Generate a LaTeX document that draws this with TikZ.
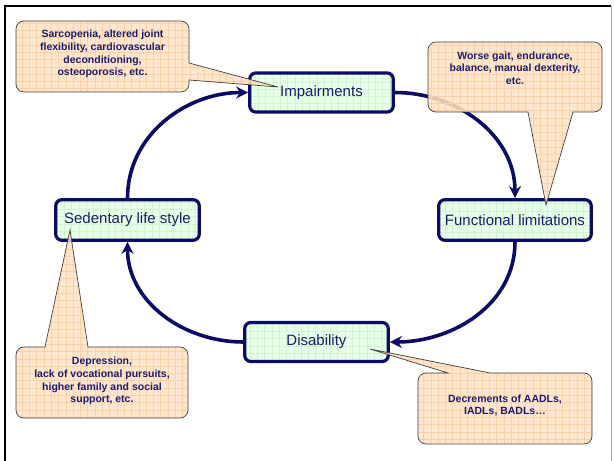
\documentclass[tikz,border=0pt]{standalone}
\usepackage{fontspec}
\setmainfont{Liberation Sans}
\usetikzlibrary{arrows.meta}

\definecolor{navyText}{RGB}{28,28,110}
\definecolor{navyLine}{RGB}{12,12,104}
\definecolor{mintFill}{RGB}{232,255,232}
\definecolor{mintGrid}{RGB}{208,244,208}
\definecolor{peachFill}{RGB}{255,226,196}
\definecolor{peachGrid}{RGB}{251,210,168}

\begin{document}
\begin{tikzpicture}
[x=1pt,y=1pt,
  boxDecorate/.style={shape=rectangle,rounded corners=6pt,draw=navyLine,line width=3.2pt,
    fill=mintFill,minimum width=143.5pt,minimum height=39pt,text=navyText,
    font=\fontsize{15}{18}\selectfont,
    path picture={\draw[mintGrid,line width=0.4pt] (path picture bounding box.south west)
      grid[step=7.3pt] (path picture bounding box.north east);}},
  calloutDecorate/.style={draw=black!75,line width=0.7pt,fill=peachFill,fill opacity=0.85,
    path picture={\draw[peachGrid,line width=0.4pt] (path picture bounding box.south west)
      grid[step=7.3pt] (path picture bounding box.north east);}},
  calloutText/.style={align=center,text=navyText,font=\bfseries\fontsize{10.5}{12.7}\selectfont},
  arrowDecorate/.style={-{Stealth[length=12pt,width=12pt]},line width=3.6pt,draw=navyLine},
  scale=1]
\useasboundingbox (0,0) rectangle (614,461);
%% frame
\draw[line width=2pt] (5,0) -- (5,455) -- (611,455);
\draw[black!35,line width=0.8pt] (611,455) -- (611,0);
%% boxes of the cycle
\node[boxDecorate] (imp) at (321.5,368.5) {Impairments};
\node[boxDecorate,minimum width=152.5pt,minimum height=40.5pt] (func) at (515,241) {Functional limitations};
\node[boxDecorate,minimum height=40.5pt] (sed) at (127.5,241) {Sedentary life style};
\node[boxDecorate] (dis) at (316.5,119) {Disability};
%% cycle arrows
\draw[arrowDecorate] (sed.north) to[out=90,in=180] (imp.west);
\draw[arrowDecorate] (imp.east) to[out=0,in=90] (func.north);
\draw[arrowDecorate] (func.south) to[out=-90,in=0] (dis.east);
\draw[arrowDecorate] (dis.west) to[out=180,in=-90] (sed.south);
%% callouts
\coordinate (impTip) at (278,374);
\coordinate (funcTip) at (546,256);
\coordinate (sedTip) at (70,231);
\coordinate (disTip) at (370,112);
\path[calloutDecorate] (impTip) -- (189,398) -- (189,432) arc[start angle=0,end angle=90,radius=8]
  -- (24,440) arc[start angle=90,end angle=180,radius=8]
  -- (16,377) arc[start angle=180,end angle=270,radius=8]
  -- (181,369) arc[start angle=270,end angle=360,radius=8] -- (189,381) -- cycle;
\path[calloutDecorate] (funcTip) -- (528,349) -- (436,349) arc[start angle=270,end angle=180,radius=8]
  -- (428,411) arc[start angle=180,end angle=90,radius=8]
  -- (594,419) arc[start angle=90,end angle=0,radius=8]
  -- (602,357) arc[start angle=0,end angle=-90,radius=8] -- (573,349) -- cycle;
\path[calloutDecorate] (sedTip) -- (45,114) -- (24,114) arc[start angle=90,end angle=180,radius=8]
  -- (16,51) arc[start angle=180,end angle=270,radius=8]
  -- (180,43) arc[start angle=270,end angle=360,radius=8]
  -- (188,106) arc[start angle=0,end angle=90,radius=8] -- (88,114) -- cycle;
\path[calloutDecorate] (disTip) -- (448,88) -- (426,88) arc[start angle=90,end angle=180,radius=8]
  -- (418,25) arc[start angle=180,end angle=270,radius=8]
  -- (584,17) arc[start angle=270,end angle=360,radius=8]
  -- (592,80) arc[start angle=0,end angle=90,radius=8] -- (490,88) -- cycle;
\node[calloutText] (sarc) at (102.5,407) {Sarcopenia, altered joint\\flexibility, cardiovascular\\deconditioning,\\osteoporosis, etc.};
\node[calloutText] (gait) at (515,393) {Worse gait, endurance,\\balance, manual dexterity,\\etc.};
\node[calloutText] (depr) at (102,80) {Depression,\\lack of vocational pursuits,\\higher family and social\\support, etc.};
\node[calloutText] (decr) at (505,55.5) {Decrements of AADLs,\\IADLs, BADLs\ldots};
\end{tikzpicture}
\end{document}
